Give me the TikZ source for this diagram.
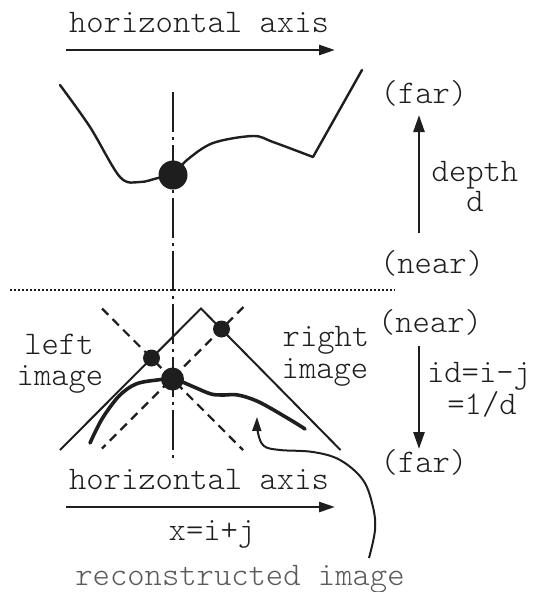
\documentclass[tikz,border=0pt]{standalone}
\usepackage{fontspec}
\newfontfamily\lmlight{Latin Modern Mono Light}
\usetikzlibrary{arrows.meta}
\definecolor{ink}{HTML}{1E1E1E}
\definecolor{greytext}{HTML}{5A5A5A}
\begin{document}
\begin{tikzpicture}[x=1pt,y=-1pt,
  lbl/.style={font=\lmlight\fontsize{33}{33}\selectfont, text=ink, inner sep=0pt, anchor=base},
  axisarrow/.style={draw=ink, line width=2.6pt, -{Triangle[length=16pt,width=10pt]}},
  deptharrow/.style={draw=ink, line width=2.6pt, -{Triangle[length=17pt,width=11pt]}},
  curveline/.style={draw=ink, line width=2.4pt, line join=round, line cap=round},
  thickcurve/.style={draw=ink, line width=3.6pt, line join=round, line cap=round},
  imgline/.style={draw=ink, line width=2pt, line join=miter},
  dashline/.style={draw=ink, line width=2.2pt, dash pattern=on 9pt off 6pt},
  dashdotline/.style={draw=ink, line width=2pt, dash pattern=on 40pt off 5pt on 3pt off 5pt},
  dotline/.style={draw=ink, line width=2pt, dash pattern=on 2pt off 2pt},
  bigdot/.style={circle, fill=ink, inner sep=0pt},
  pointer/.style={draw=ink, line width=2pt, -{Triangle[length=14pt,width=9pt]}}
]
\useasboundingbox (0,0) rectangle (534,592);

% ---------- top half ----------
\node[lbl] (topaxis) at (199,32.5) {horizontal axis};
\coordinate (ta1) at (66,50);
\coordinate (ta2) at (335,50);
\draw[axisarrow] (ta1) -- (ta2);

\draw[curveline] plot[smooth, tension=0.55] coordinates
  {(60,85) (90,127) (120,177) (140,182) (158,178) (173,175) (187,160) (213,143) (253,136) (273,142) (313,157)}
  -- (362,70);

% vertical dash-dot line
\coordinate (vtop) at (173,92);
\coordinate (vbot) at (173,463);
\draw[dashdotline] (vtop) -- (vbot);

\node[bigdot, minimum size=29pt] (topdot) at (173,175) {};

% depth arrow
\node[lbl] (far1) at (424,103) {(far)};
\node[lbl] (depth) at (475,181) {depth};
\node[lbl] (dd) at (475,211) {d};
\node[lbl] (near1) at (432,273) {(near)};
\coordinate (da1) at (419,233);
\coordinate (da2) at (419,115);
\draw[deptharrow] (da1) -- (da2);

% dotted separator
\coordinate (s1) at (10,290);
\coordinate (s2) at (395,290);
\draw[dotline] (s1) -- (s2);

% ---------- bottom half ----------
\coordinate (vl) at (60,450);
\coordinate (vp) at (201,308.5);
\coordinate (vr) at (340.5,450);
\draw[imgline] (vl) -- (vp) -- (vr);

\coordinate (d1a) at (102,308.5);
\coordinate (d1b) at (243,450);
\coordinate (d2a) at (243.5,307);
\coordinate (d2b) at (102,448.5);
\draw[dashline] (d1a) -- (d1b);
\draw[dashline] (d2a) -- (d2b);

\draw[thickcurve] plot[smooth, tension=0.55] coordinates
  {(90,443) (102,419) (119,396) (136,384) (157,380) (172,379) (180,381) (194,387) (211,394) (223,395) (238,395) (259,402) (289,419) (305,429)};

\node[bigdot, minimum size=17pt] (ldot) at (151.5,358) {};
\node[bigdot, minimum size=17pt] (rdot) at (221.5,329) {};
\node[bigdot, minimum size=23pt] (cdot) at (172.5,379) {};

\node[lbl] (left) at (59,354) {left};
\node[lbl] (limage) at (60,385) {image};
\node[lbl] (right) at (326,346) {right};
\node[lbl] (rimage) at (325,378) {image};

\node[lbl] (near2) at (430,332) {(near)};
\node[lbl] (idij) at (479,382) {id=i-j};
\node[lbl] (eqd) at (482,414) {=1/d};
\node[lbl] (far2) at (424,472) {(far)};
\coordinate (ia1) at (419,346);
\coordinate (ia2) at (419,449);
\draw[deptharrow] (ia1) -- (ia2);

\node[lbl] (botaxis) at (199,489) {horizontal axis};
\coordinate (ba1) at (66,507);
\coordinate (ba2) at (335,507);
\draw[axisarrow] (ba1) -- (ba2);
\node[lbl] (xij) at (212,540) {x=i+j};

\node[lbl, text=greytext] (recon) at (240,585) {reconstructed image};
\coordinate (pstart) at (369,558);
\coordinate (ptip) at (257,417);
\draw[pointer] plot[smooth, tension=0.6] coordinates
  {(pstart) (375,530) (373,507) (363,480) (340,460) (313,452) (280,450) (264,446) (258,433) (ptip)};
\end{tikzpicture}
\end{document}
